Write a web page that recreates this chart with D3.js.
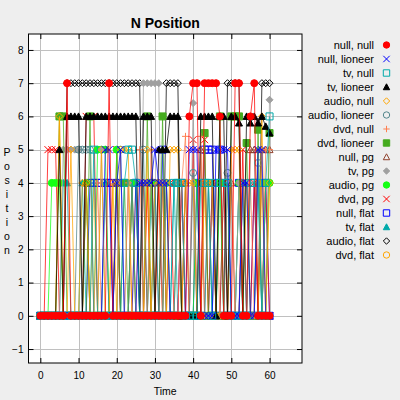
<!DOCTYPE html>
<html lang="en">
<head>
<meta charset="UTF-8">
<title>N Position</title>
<script src="https://d3js.org/d3.v7.min.js"></script>
<style>
  body { margin: 0; background: #eeeeee; }
  svg text { font-family: "Liberation Sans", Arial, sans-serif; fill: #000; }
</style>
</head>
<body>
<svg id="chart" width="400" height="400"></svg>
<script>
// time steps 0..60
const times = d3.range(0, 61);

const seriesNames = ["null, null", "null, lioneer", "tv, null", "tv, lioneer",
  "audio, null", "audio, lioneer", "dvd, null", "dvd, lioneer", "null, pg",
  "tv, pg", "audio, pg", "dvd, pg", "null, flat", "tv, flat", "audio, flat", "dvd, flat"];

const xTicks = [0, 10, 20, 30, 40, 50, 60];
const yTicks = [-1, 0, 1, 2, 3, 4, 5, 6, 7, 8];

// position per time step
const nullNull = [0,0,0,0,0,0,0,7,0,0, 0,0,0,0,0,0,0,0,7,0, 0,0,0,0,0,0,0,0,0,0,
  0,0,0,0,0,0,0,0,0,6, 7,7,0,7,7,7,7,6,0,0, 0,7,7,0,0,6,7,0,0,0, 0];
const nullLioneer = [0,0,0,0,0,0,0,0,0,0, 0,0,0,0,0,0,0,5,5,0, 4,5,0,0,0,0,4,4,4,4,
  5,4,4,4,0,0,0,0,0,5, 5,5,0,0,0,0,5,5,5,5, 0,0,0,4,4,0,0,5,5,0, 0];
const tvNull = [0,0,0,0,0,0,0,0,0,0, 0,0,0,0,5,0,0,0,0,0, 0,0,4,5,5,4,0,0,0,0,
  0,0,0,0,0,4,4,4,0,0, 0,0,4,4,4,0,4,4,4,4, 0,0,0,0,0,4,4,4,0,4, 6];
const tvLioneer = [0,0,0,0,0,5,0,6,6,6, 6,0,6,6,6,6,6,6,6,6, 6,6,6,6,6,6,0,6,6,6,
  0,5,5,5,6,6,6,0,0,0, 0,0,6,6,6,6,0,6,6,0, 6,6,5.8,0,6,5.8,6,5.8,6,5.7, 5.5];
const audioNull = [0,0,0,0,0,6,0,0,5,0, 0,4,4,0,0,0,5,0,0,4, 0,5,5,5,0,0,0,0,5,0,
  4,4,4,0,5,5,5,0,4,4, 4,0,0,4,4,4,0,0,0,0, 5,5,5,0,0,0,0,0,6,0, 4];
const audioLioneer = [0,0,0,0,0,0,0,0,0,0, 5,5,5,5,0,0,0,4,0,0, 0,5,0,0,4,0,0,5,0,0,
  4,0,0,4,0,0,4,0,0,0, 4.3,0,0,0,4,0,0,0,0,4.3, 0,0,0,4,0,0,0,4.6,0,0, 0];
const dvdNull = [0,0,0,0,0,0,0,0,0,0, 0,0,0,0,0,4,0,0,0,0, 0,0,0,4,0,0,5,0,0,5,
  0,0,0,4,0,0,0,4,5.4,0, 0,0,5.4,0,0,0,4,0,0,0, 5,0,0,0,0,4,0,0,0,5, 5];
const dvdLioneer = [0,0,0,0,0,6,6,0,0,0, 0,0,0,6,0,0,0,0,0,0, 0,0,4,0,0,0,0,0,6,0,
  0,0,6,0,0,0,0,0,0,0, 0,0,0,5.5,0,0,0,6,0,0, 6,6,6,0,5.2,0,0,5.6,0,0, 5.5];
const nullPg = [0,0,0,0,0,0,0,0,0,0, 0,0,4,0,0,0,0,0,0,0, 4,0,0,0,0,0,0,4,0,0,
  0,0,4,0,0,0,0,0,4,0, 0,0,5,0,0,4,0,0,0,0, 4,0,0,0,0,5,5,0,5,5, 5];
const tvPg = [0,0,0,0,0,0,5,5,5,5, 5,0,0,0,0,0,5,0,0,0, 0,0,0,4,0,0,0,7,7,7,
  7,7,0,0,0,0,4,0,0,0, 6.4,0,0,0,0,4,0,0,0,0, 0,0,4,0,0,0,0,5,0,0, 6.5];
const audioPg = [0,0,0,4,4,4,0,0,0,0, 0,0,4,0,0,5,5,5,0,0, 5,0,0,0,4,0,0,0,0,4,
  0,0,0,4,0,0,4,0,0,0, 0,4,0,0,0,0,0,4,0,0, 0,0,4,0,0,0,0,0,0,4, 4];
const dvdPg = [0,0,5,5,5,0,0,0,0,0, 0,0,6,6,6,0,0,0,0,0, 5,0,0,0,4,0,0,0,4,0,
  0,4,0,0,4,0,0,4,0,0, 5.3,0,0,5.3,0,4,0,0,4,0, 0,0,0,5,0,0,4,0,0,4, 0];
const nullFlat = [0,0,0,0,0,0,0,0,0,0, 0,0,0,4,4,4,4,4,4,0, 4,0,0,0,0,4,0,0,0,4,
  0,0,5,0,0,0,0,4,0,0, 0,4,0,5,5,5,0,5,0,0, 0,0,4,0,0,0,4,0,0,4, 0];
const tvFlat = [0,0,0,0,0,0,4,4,0,0, 0,4,0,0,0,0,0,4,0,0, 0,0,0,0,4,4,0,0,0,0,
  4,0,0,0,0,4,0,0,0,0, 0,0,0,0,4,0,0,0,4,0, 0,0,0,4,0,0,0,4,0,0, 0];
const audioFlat = [0,0,0,0,0,0,0,7,7,7, 7,7,7,7,7,7,7,7,7,7, 7,7,7,7,7,7,7,0,0,0,
  0,0,0,7,7,7,7,0,0,0, 0,0,0,0,0,0,0,0,0,7, 7,7,7,0,0,0,0,0,7,7, 7];
const dvdFlat = [0,0,0,0,0,6,0,0,0,0, 0,0,4,0,4,0,0,0,0,4, 4,0,0,0,0,4,0,0,4,0,
  0,4,0,0,0,0,0,0,4,0, 0,0,0,4,0,0,0,0,0,4, 0,0,0,0,4,0,0,0,4,0, 4];

const seriesValues = [nullNull, nullLioneer, tvNull, tvLioneer, audioNull, audioLioneer,
  dvdNull, dvdLioneer, nullPg, tvPg, audioPg, dvdPg, nullFlat, tvFlat, audioFlat, dvdFlat];

// plot look
const colors = ["#ff0000", "#0000ff", "#00aaaa", "#000000", "#ffa500", "#53868b",
  "#ff7f50", "#45ab1f", "#90422d", "#a0a0a0", "#14ff14"];
const marks = ["dot", "cross", "square", "triFill", "diamond", "circle",
  "plus", "squareFill", "tri", "diamondFill"];

const plotL = 28.5, plotR = 302, plotT = 34, plotB = 363;

const svg = d3.select("#chart");

const x = d3.scaleLinear().domain([-3.1, 68.5]).range([plotL, plotR]);
const y = d3.scaleLinear().domain([-1.42, 8.48]).range([plotB, plotT]);

function markPath(type, r) {
  const h = r * 0.85;
  switch (type) {
    case "dot":
    case "circle":
      return `M${-r},0a${r},${r} 0 1,0 ${2 * r},0a${r},${r} 0 1,0 ${-2 * r},0Z`;
    case "cross":
      return `M${-r},${-r}L${r},${r}M${-r},${r}L${r},${-r}`;
    case "square":
    case "squareFill":
      return `M${-r},${-r}h${2 * r}v${2 * r}h${-2 * r}Z`;
    case "tri":
    case "triFill":
      return `M0,${-r}L${r},${h}L${-r},${h}Z`;
    case "diamond":
    case "diamondFill":
      return `M0,${-r}L${r},0L0,${r}L${-r},0Z`;
    case "plus":
      return `M${-r},0h${2 * r}M0,${-r}v${2 * r}`;
  }
}
const isFilled = t => t === "dot" || t === "squareFill" || t === "triFill" || t === "diamondFill";

// plot background
svg.append("rect")
  .attr("x", plotL).attr("y", plotT)
  .attr("width", plotR - plotL).attr("height", plotB - plotT)
  .attr("fill", "#fff");

// grid
const grid = svg.append("g").attr("stroke", "#c0c0c0").attr("stroke-width", 1);
grid.selectAll(".gx").data(xTicks).join("line")
  .attr("x1", d => Math.round(x(d)) + 0.5).attr("x2", d => Math.round(x(d)) + 0.5)
  .attr("y1", plotT).attr("y2", plotB);
grid.selectAll(".gy").data(yTicks).join("line")
  .attr("x1", plotL).attr("x2", plotR)
  .attr("y1", d => Math.round(y(d)) + 0.5).attr("y2", d => Math.round(y(d)) + 0.5);

// series, first one on top
const line = d3.line()
  .x((d, i) => x(times[i]))
  .y(d => y(d));

const order = d3.range(seriesValues.length).reverse();
order.forEach(k => {
  const col = colors[k % colors.length];
  const mk = marks[k % marks.length];
  const g = svg.append("g");
  g.append("path")
    .attr("d", line(seriesValues[k]))
    .attr("fill", "none")
    .attr("stroke", col)
    .attr("stroke-opacity", 0.75)
    .attr("stroke-width", 1);
  g.selectAll("path.m").data(seriesValues[k]).join("path")
    .attr("class", "m")
    .attr("transform", (d, i) => `translate(${x(times[i])},${y(d)})`)
    .attr("d", markPath(mk, 3.5))
    .attr("fill", isFilled(mk) ? col : "none")
    .attr("stroke", col)
    .attr("stroke-width", 1);
});

// axes, ticks pointing inward
const axL = svg.append("g").attr("transform", `translate(${plotL},0)`)
  .call(d3.axisLeft(y).tickValues(yTicks).tickSize(-5).tickPadding(5));
const axR = svg.append("g").attr("transform", `translate(${plotR},0)`)
  .call(d3.axisRight(y).tickValues(yTicks).tickSize(-5).tickFormat(""));
const axB = svg.append("g").attr("transform", `translate(0,${plotB})`)
  .call(d3.axisBottom(x).tickValues(xTicks).tickSize(-5).tickPadding(9));
const axT = svg.append("g").attr("transform", `translate(0,${plotT})`)
  .call(d3.axisTop(x).tickValues(xTicks).tickSize(-5).tickFormat(""));
[axL, axR, axB, axT].forEach(a => {
  a.select(".domain").remove();
  a.selectAll("text").attr("font-size", 10).attr("font-family", "Liberation Sans, Arial, sans-serif");
});

svg.append("rect")
  .attr("x", plotL).attr("y", plotT)
  .attr("width", plotR - plotL).attr("height", plotB - plotT)
  .attr("fill", "none").attr("stroke", "#000").attr("stroke-width", 1);

// title and labels
svg.append("text")
  .attr("x", (plotL + plotR) / 2).attr("y", 28)
  .attr("text-anchor", "middle")
  .attr("font-size", 14).attr("font-weight", "bold")
  .text("N Position");

svg.append("text")
  .attr("x", (plotL + plotR) / 2).attr("y", 395)
  .attr("text-anchor", "middle")
  .attr("font-size", 10.5)
  .text("Time");

const ylab = "Position".split("");
svg.append("g").selectAll("text").data(ylab).join("text")
  .attr("x", 7).attr("y", (d, i) => 156 + i * 14)
  .attr("text-anchor", "middle")
  .attr("font-size", 10.5)
  .text(d => d);

// legend
const leg = svg.append("g");
seriesNames.forEach((name, k) => {
  const cy = 45 + k * 14;
  const col = colors[k % colors.length];
  const mk = marks[k % marks.length];
  leg.append("text")
    .attr("x", 374).attr("y", cy + 4)
    .attr("text-anchor", "end")
    .attr("font-size", 11)
    .text(name);
  leg.append("path")
    .attr("transform", `translate(386.5,${cy})`)
    .attr("d", markPath(mk, 3.2))
    .attr("fill", isFilled(mk) ? col : "none")
    .attr("stroke", col)
    .attr("stroke-width", 1);
});
</script>
</body>
</html>
